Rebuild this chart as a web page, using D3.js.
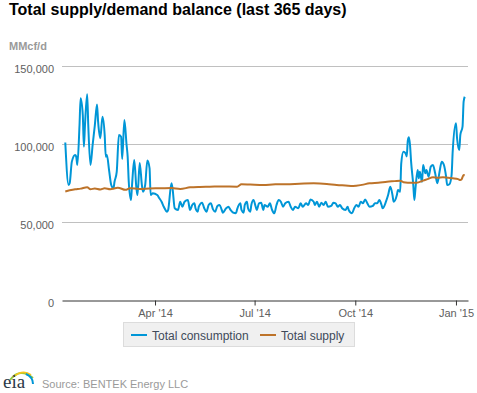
<!DOCTYPE html>
<html>
<head>
<meta charset="utf-8">
<script src="https://cdn.jsdelivr.net/npm/d3@7"></script>
<style>
  html, body { margin: 0; padding: 0; background: #fff; }
  svg { display: block; font-family: "Liberation Sans", Arial, sans-serif; }
</style>
</head>
<body>
<svg id="chart" width="477" height="393"></svg>
<script>
// ---- data ----
const startDate = "2014-01-09";           // day 0 of the series
const yTicks = [0, 50000, 100000, 150000];
const xTickDates = ["2014-04-01", "2014-07-01", "2014-10-01", "2015-01-01"];
const seriesNames = ["Total consumption", "Total supply"];

const consDay = [0,3,4,6,9,10,11,13,14,16,17,18,20,21,23,25,27,29,30,32,34,36,37,38,40,42,44,45,47,49,51,52,54,56,57,58,60,61,63,65,66,68,70,71,73,75,77,78,80,84,86,88,90,93,94,97,98,100,103,105,107,109,112,114,116,118,119,121,122,125,127,129,131,133,135,137,139,141,143,144,147,149,151,153,156,157,160,161,163,164,166,167,169,170,172,174,175,177,179,181,182,185,187,189,191,193,195,197,199,201,204,206,208,210,213,215,217,220,222,224,227,228,230,232,234,236,238,240,243,245,247,249,251,253,256,258,259,262,264,266,268,270,272,274,276,278,281,283,285,287,289,290,293,295,297,299,300,303,304,306,307,309,311,312,313,314,315,316,318,319,320,322,323,324,326,327,329,330,332,334,336,338,340,342,344,346,348,349,351,353,354,357,358,360,361,363,364,365];
const consVal = [101000,73700,74800,88700,93000,91900,86500,112000,129300,118600,98300,112000,131900,112000,86500,99400,112000,125400,114300,103700,117500,105800,91900,93000,83300,73700,71600,75800,82200,105800,104700,90400,115400,99400,91900,75800,64100,73700,89700,71600,67300,87800,73700,69400,73700,89400,84600,67300,68400,67300,65200,63000,59800,56600,57700,74800,71600,58800,57700,63000,59800,63000,64100,57700,60900,62000,58800,56600,59800,62400,58800,56600,60900,62000,58100,56600,60300,60900,57700,56000,58800,59800,57700,56200,55600,58100,62000,57700,56000,60900,63000,58800,56600,60900,64100,59800,57700,62000,62400,57700,60900,59800,62000,57700,55600,60900,64100,63000,59800,62000,63000,59800,57700,59800,58800,62000,59800,62000,60900,64500,63000,60900,63000,59800,62400,60900,63000,59800,60300,62400,62000,59800,60900,58800,57700,59800,57700,55600,58800,60900,59800,63000,62000,64500,62000,59800,60300,62000,62000,64100,60900,58800,63000,67300,72600,67300,63000,67300,70500,69400,87600,95000,94000,92000,102200,104300,99400,88700,73700,64100,71600,83300,78000,82200,75800,86500,81200,83300,79000,85500,86500,81200,74800,82200,88700,86500,79000,73700,74200,80100,95000,113300,103700,96200,105800,111100,127100,130300];

const supDay = [0,4,9,14,20,23,27,32,36,41,48,55,59,68,77,87,97,105,114,123,132,143,157,161,169,181,192,202,214,227,239,248,256,263,271,278,286,294,301,306,309,313,321,327,331,336,340,345,350,354,359,361,362,364,365];
const supVal = [69600,70300,71000,71400,72300,71000,71500,70900,71600,71000,72000,70600,71600,71200,71500,71600,71800,71200,72200,72500,72600,72800,72600,74200,74000,73700,74200,74200,74500,74800,74400,73700,73400,73100,73800,74800,75200,75800,76200,76500,75500,75200,75200,76500,77500,78700,78300,78700,78300,78000,77500,76900,77200,80100,80000];

// ---- helpers ----
const parse = d3.timeParse("%Y-%m-%d");
const t0 = parse(startDate);
const dayToDate = d => d3.timeDay.offset(t0, d);
const cons = consDay.map((d, i) => ({ date: dayToDate(d), value: consVal[i] }));
const sup = supDay.map((d, i) => ({ date: dayToDate(d), value: supVal[i] }));

const svg = d3.select("#chart");
const L = 62, R = 468, T = 66, B = 300;

const x = d3.scaleTime()
  .domain([dayToDate(-3), dayToDate(368)])
  .range([L, R]);
const y = d3.scaleLinear().domain([0, 150000]).range([B, T]);

// title
svg.append("text").attr("x", 9).attr("y", 15)
  .attr("font-size", 16).attr("font-weight", "bold").attr("fill", "#000")
  .text("Total supply/demand balance (last 365 days)");

svg.append("text").attr("x", 9).attr("y", 50)
  .attr("font-size", 11).attr("font-weight", "bold").attr("fill", "#9a9a9a")
  .text("MMcf/d");

// gridlines
svg.append("g").selectAll("line").data(yTicks.filter(v => v > 0)).join("line")
  .attr("x1", L).attr("x2", R)
  .attr("y1", d => Math.round(y(d)) + 0.5).attr("y2", d => Math.round(y(d)) + 0.5)
  .attr("stroke", "#c0c0c0").attr("stroke-width", 1);

// y labels
const yAxis = d3.axisLeft(y).tickValues(yTicks).tickFormat(d3.format(",")).tickSize(0).tickPadding(8);
const gy = svg.append("g").attr("transform", `translate(${L},0)`).call(yAxis);
gy.select(".domain").remove();
gy.selectAll("text").attr("font-size", 11).attr("fill", "#606060")
  .attr("font-family", "Liberation Sans, Arial, sans-serif").attr("dy", "0.62em");

// x axis
const xAxis = d3.axisBottom(x).tickValues(xTickDates.map(parse))
  .tickFormat(d3.timeFormat("%b '%y")).tickSize(5).tickSizeOuter(0).tickPadding(4);
const gx = svg.append("g").attr("transform", `translate(0,${B + 0.5})`).call(xAxis);
gx.select(".domain").attr("stroke", "#333");
gx.selectAll(".tick line").attr("stroke", "#333");
gx.selectAll("text").attr("font-size", 11).attr("fill", "#606060")
  .attr("font-family", "Liberation Sans, Arial, sans-serif");

// lines
const line = d3.line().x(d => x(d.date)).y(d => y(d.value)).curve(d3.curveMonotoneX);
const colors = ["#0096d7", "#bd732a"];
svg.append("path").datum(cons).attr("d", line)
  .attr("fill", "none").attr("stroke", colors[0]).attr("stroke-width", 2).attr("stroke-linejoin", "round");
svg.append("path").datum(sup).attr("d", line)
  .attr("fill", "none").attr("stroke", colors[1]).attr("stroke-width", 2).attr("stroke-linejoin", "round");

// legend
const lg = svg.append("g");
lg.append("rect").attr("x", 123.5).attr("y", 322.5).attr("width", 231).attr("height", 24)
  .attr("fill", "#f0f0f0").attr("stroke", "#dcdcdc");
const items = [{ x: 131, tx: 152 }, { x: 260, tx: 281 }];
items.forEach((it, i) => {
  lg.append("line").attr("x1", it.x).attr("x2", it.x + 16).attr("y1", 335).attr("y2", 335)
    .attr("stroke", colors[i]).attr("stroke-width", 2);
  lg.append("text").attr("x", it.tx).attr("y", 339.5).attr("font-size", 12)
    .attr("fill", "#3e4a5a").text(seriesNames[i]);
});

// eia logo
const logo = svg.append("g");
logo.append("path").attr("d", "M10,380 Q20,367 33,378").attr("fill", "none").attr("stroke", "#8dc63f").attr("stroke-width", 2);
logo.append("path").attr("d", "M13,377 Q23,369 31,375").attr("fill", "none").attr("stroke", "#f6c51b").attr("stroke-width", 1.6);
logo.append("path").attr("d", "M26,374 Q33,377 33,384").attr("fill", "none").attr("stroke", "#0096d7").attr("stroke-width", 2);
logo.append("text").attr("x", 3).attr("y", 388).attr("font-size", 19)
  .attr("font-family", "Liberation Serif, DejaVu Serif, serif").attr("fill", "#2b3a48").text("eia");

svg.append("text").attr("x", 42).attr("y", 388).attr("font-size", 11).attr("fill", "#9a9a9a")
  .text("Source: BENTEK Energy LLC");
</script>
</body>
</html>
